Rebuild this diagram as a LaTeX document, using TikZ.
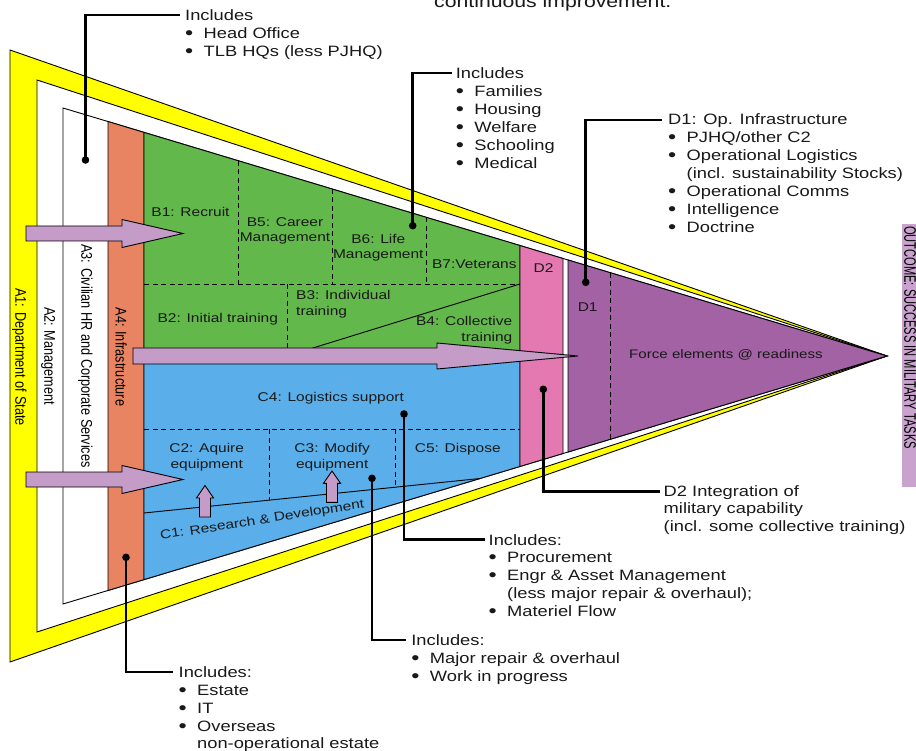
\documentclass[tikz,border=0pt]{standalone}
\usepackage{fontspec}
\usepackage{graphicx}
\setmainfont{Liberation Sans}[FakeStretch=1.22]
\newfontfamily\plainfont{Liberation Sans}
\definecolor{yel}{HTML}{FFFF00}
\definecolor{orng}{HTML}{E88462}
\definecolor{grn}{HTML}{63B84B}
\definecolor{blu}{HTML}{5AAFEA}
\definecolor{pnk}{HTML}{E479B1}
\definecolor{prp}{HTML}{A262A4}
\definecolor{arrc}{HTML}{C59CC8}
\definecolor{outc}{HTML}{C9A2CD}
\newcommand{\lblfont}{\fontsize{12.7}{15.3}\selectfont}
\newcommand{\callfont}{\fontsize{15}{17.9}\selectfont}
\newcommand{\bl}{\makebox[18.5pt][l]{\raisebox{-1pt}{\fontsize{19}{19}\selectfont•}}}
\newcommand{\ind}{\hspace*{18.5pt}}
\newcommand{\vlab}[1]{\scalebox{1.22}[1]{\rotatebox{-90}{\plainfont\fontsize{12.7}{15}\selectfont #1}}}
\tikzset{
  region/.style={draw=black, line width=0.9pt},
  dashln/.style={draw=black, line width=0.9pt, dash pattern=on 5pt off 3.5pt},
  solidln/.style={draw=black, line width=0.9pt},
  lbl/.style={inner sep=0, font=\lblfont, text=black!90},
  callln/.style={draw=black, line width=2.6pt},
  calltext/.style={inner sep=0, anchor=base west, text=black!90},
  arrowshape/.style={fill=arrc, draw=black, line width=0.9pt, line join=miter},
}
\begin{document}
\begin{tikzpicture}[x=1pt,y=-1pt]
\useasboundingbox (0,0) rectangle (916,751);
\clip (0,0) rectangle (916,751);
\fill[white] (0,0) rectangle (916,751);

% nested triangles
\draw[region, fill=yel] (10,50) -- (887,356) -- (10,662) -- cycle;
\draw[region, fill=white] (37,80) -- (887,356) -- (37,632) -- cycle;
\draw[region, fill=white] (63,108) -- (887,356) -- (63,604) -- cycle;
% A4 strip
\draw[region, fill=orng] (108,121.54) -- (144,132.38) -- (144,579.62) -- (108,590.46) -- cycle;
% B and C regions
\draw[region, fill=grn] (144,132.38) -- (520,245.54) -- (520,356) -- (144,356) -- cycle;
\draw[region, fill=blu] (144,356) -- (520,356) -- (520,466.46) -- (144,579.62) -- cycle;
% D2 and D1
\draw[region, fill=pnk] (520,245.54) -- (563,258.49) -- (563,453.51) -- (520,466.46) -- cycle;
\draw[region, fill=prp] (568,259.99) -- (887,356) -- (568,452.01) -- cycle;

% dashed subdivisions
\draw[dashln] (144,284) -- (520,284);
\draw[dashln] (238,160.67) -- (238,284);
\draw[dashln] (332,188.96) -- (332,284);
\draw[dashln] (426,217.25) -- (426,284);
\draw[dashln] (287,284) -- (287,356);
\draw[dashln] (144,429) -- (520,429);
\draw[dashln] (269,429) -- (269,500.2);
\draw[dashln] (395,429) -- (395,487.2);
\draw[dashln] (610,272.63) -- (610,439.37);
% solid subdivisions
\draw[solidln] (287,356) -- (520,284);
\draw[solidln] (144,513) -- (480,478.5);

% vertical labels
\node[inner sep=0] (a1) at (19.3,357) {\vlab{A1: Department of State}};
\node[inner sep=0] (a2) at (48.2,356) {\vlab{A2: Management}};
\node[inner sep=0] (a3) at (85.3,356) {\vlab{A3: Civilian HR and Corporate Services}};
\node[inner sep=0] (a4) at (121.2,357) {\vlab{A4: Infrastructure}};

% region labels
\node[lbl, anchor=base] (b1) at (190.5,216.7) {B1: Recruit};
\node[lbl, anchor=base] (b5) at (285,226.7) {\parbox[t]{3.5cm}{\centering\lblfont B5: Career\\Management}};
\node[lbl, anchor=base] (b6) at (378.3,243.3) {\parbox[t]{3.5cm}{\centering\lblfont B6: Life\\Management}};
\node[lbl, anchor=base] (b7) at (474.3,269) {B7:Veterans};
\node[lbl, anchor=base] (b2) at (217.8,322.3) {B2: Initial training};
\node[lbl, anchor=base west] (b3) at (296,300) {\parbox[t]{3.5cm}{\raggedright\lblfont B3: Individual\\training}};
\node[lbl, anchor=base east] (b4) at (512.5,326) {\parbox[t]{3.5cm}{\raggedleft\lblfont B4: Collective\\training}};
\node[lbl, anchor=base] (c4) at (330.8,401) {C4: Logistics support};
\node[lbl, anchor=base] (c2) at (206.7,452.7) {\parbox[t]{3.5cm}{\centering\lblfont C2: Aquire\\equipment}};
\node[lbl, anchor=base] (c3) at (332.2,452.7) {\parbox[t]{3.5cm}{\centering\lblfont C3: Modify\\equipment}};
\node[lbl, anchor=base] (c5) at (457.8,452.7) {C5: Dispose};
\node[lbl, anchor=base, rotate=8.85] (c1) at (262.8,523.8) {C1: Research \& Development};
\node[lbl, anchor=base] (d2) at (543.5,272.7) {D2};
\node[lbl, anchor=base] (d1) at (587.7,311.7) {D1};
\node[lbl, anchor=base, font=\fontsize{12.4}{15}\selectfont] (force) at (726,359) {Force elements @ readiness};

% big arrows
\draw[arrowshape] (26,226) -- (122,226) -- (122,219.5) -- (183,233.5) -- (122,247.5) -- (122,241) -- (26,241) -- cycle;
\draw[arrowshape] (26,472) -- (122,472) -- (122,465.5) -- (183,479.5) -- (122,493.5) -- (122,487) -- (26,487) -- cycle;
\draw[arrowshape] (133,348) -- (437,348) -- (437,343) -- (578,356) -- (437,369) -- (437,364) -- (133,364) -- cycle;
% small up arrows
\draw[arrowshape] (199.5,517) -- (199.5,498) -- (196.5,498) -- (205,485.5) -- (213.5,498) -- (210.5,498) -- (210.5,517) -- cycle;
\draw[arrowshape] (326.5,502.3) -- (326.5,483.3) -- (323.5,483.3) -- (332,471) -- (340.5,483.3) -- (337.5,483.3) -- (337.5,502.3) -- cycle;

% callouts
\coordinate (pa3) at (85.5,160);   \coordinate (ea3) at (180,15);
\coordinate (pb6) at (412.7,225.7); \coordinate (eb6) at (452,73);
\coordinate (pd1) at (585.7,282.3); \coordinate (ed1) at (662,120);
\coordinate (pd2) at (543.3,389.3); \coordinate (ed2) at (660,491.7);
\coordinate (pc4) at (404,414);     \coordinate (ec4) at (485,539.2);
\coordinate (pc3) at (372,478.3);   \coordinate (ec3) at (406,640);
\coordinate (pa4) at (126,557.3);   \coordinate (ea4) at (173,671.8);
\foreach \p/\e in {pa3/ea3, pb6/eb6, pd1/ed1, pd2/ed2, pc4/ec4, pc3/ec3, pa4/ea4}{
  \draw[callln] (\p) |- (\e);
  \fill[black] (\p) circle (3.8);
}

\node[calltext] (ta3) at (185,20.7) {\parbox[t]{12cm}{\callfont Includes\\\bl Head Office\\\bl TLB HQs (less PJHQ)}};
\node[calltext] (tb6) at (455.7,78.8) {\parbox[t]{12cm}{\callfont Includes\\\bl Families\\\bl Housing\\\bl Welfare\\\bl Schooling\\\bl Medical}};
\node[calltext] (td1) at (668,125) {\parbox[t]{12cm}{\callfont D1: Op. Infrastructure\\\bl PJHQ/other C2\\\bl Operational Logistics\\\ind(incl. sustainability Stocks)\\\bl Operational Comms\\\bl Intelligence\\\bl Doctrine}};
\node[calltext] (td2) at (663.5,496) {\parbox[t]{12cm}{\callfont D2 Integration of\\military capability\\(incl. some collective training)}};
\node[calltext] (tc4) at (488.5,545) {\parbox[t]{12cm}{\callfont Includes:\\\bl Procurement\\\bl Engr \& Asset Management\\\ind(less major repair \& overhaul);\\\bl Materiel Flow}};
\node[calltext] (tc3) at (411.2,645.7) {\parbox[t]{12cm}{\callfont Includes:\\\bl Major repair \& overhaul\\\bl Work in progress}};
\node[calltext] (ta4) at (178.5,677.3) {\parbox[t]{12cm}{\callfont Includes:\\\bl Estate\\\bl IT\\\bl Overseas\\\ind non-operational estate}};

% outcome box
\fill[outc] (902,224) rectangle (920,487);
\node[inner sep=0] (outcome) at (910,337.5) {\scalebox{1.5}[1]{\rotatebox{-90}{\plainfont\fontsize{11.1}{13}\selectfont OUTCOME: SUCCESS IN MILITARY TASKS}}};

% cut-off heading text
\node[inner sep=0, anchor=base west, text=black!90, font=\fontsize{17.4}{20}\selectfont] (toptext) at (434,7.3) {continuous improvement.};
\end{tikzpicture}
\end{document}
